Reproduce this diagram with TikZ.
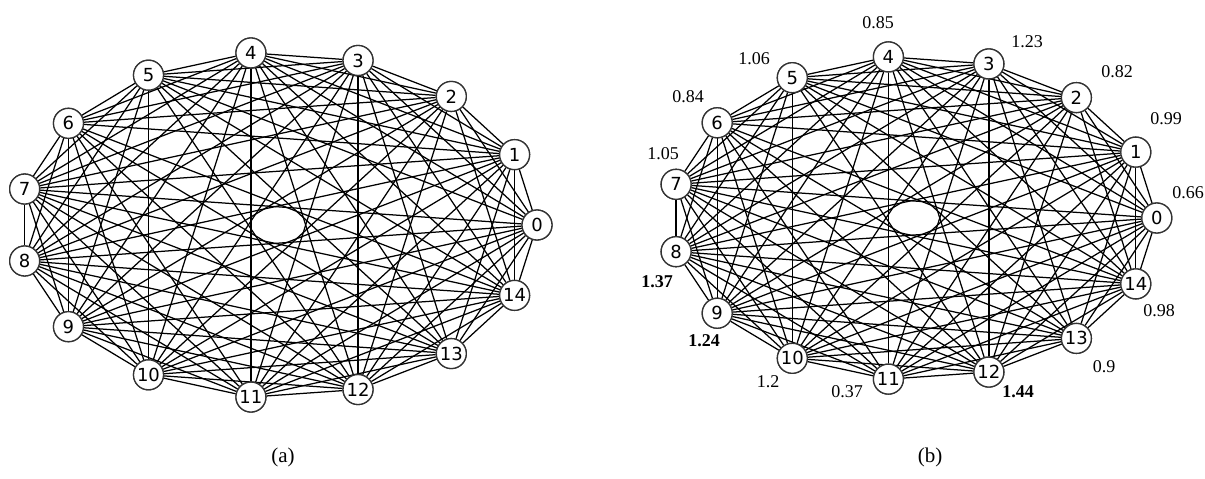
\documentclass[tikz,border=0pt]{standalone}
\usepackage{fontspec}
\setmainfont{Liberation Serif}
\newfontfamily\nodefont{DejaVu Sans}
\tikzset{
  vtx/.style={circle,draw=black!80,line width=1.3pt,fill=white,minimum size=30pt,inner sep=0pt,font=\nodefont\fontsize{18}{18}\selectfont},
  edgeline/.style={line width=1.25pt,black},
  wlab/.style={inner sep=0pt,font=\fontsize{18}{18}\selectfont},
  blab/.style={inner sep=0pt,font=\bfseries\fontsize{18}{18}\selectfont},
  caption/.style={inner sep=0pt,font=\fontsize{21}{21}\selectfont}
}
\begin{document}
\begin{tikzpicture}[x=1pt,y=-1pt]
\useasboundingbox (0,0) rectangle (1205,479);
% positions for graph (a) and (b)
\foreach \k in {0,...,14}{
  \coordinate (pa\k) at ({278+259*cos(24*\k)},{225-173*sin(24*\k)});
  \coordinate (pb\k) at ({913.8+243*cos(24*\k)},{218-162*sin(24*\k)});
}
% nodes
\foreach \k in {0,...,14}{
  \node[vtx] (a\k) at (pa\k) {\k};
  \node[vtx] (b\k) at (pb\k) {\k};
}
% edges (complete graph minus 0-6, 2-13, 5-11)
\foreach \i in {0,...,13}{
  \pgfmathtruncatemacro\s{\i+1}
  \foreach \j in {\s,...,14}{
    \pgfmathtruncatemacro\code{\i*100+\j}
    \ifnum\code=6 \else\ifnum\code=213 \else\ifnum\code=511 \else
      \draw[edgeline] (a\i) -- (a\j);
      \draw[edgeline] (b\i) -- (b\j);
    \fi\fi\fi
  }
}
% redraw nodes on top of the edges
\foreach \k in {0,...,14}{
  \node[vtx] (ta\k) at (pa\k) {\k};
  \node[vtx] (tb\k) at (pb\k) {\k};
}
% weights for graph (b)
\node[wlab] (w4) at (878,23) {0.85};
\node[wlab] (w5) at (754,59) {1.06};
\node[wlab] (w6) at (688,97) {0.84};
\node[wlab] (w7) at (663,154) {1.05};
\node[wlab] (w3) at (1027,42) {1.23};
\node[wlab] (w2) at (1117,72) {0.82};
\node[wlab] (w1) at (1166,119) {0.99};
\node[wlab] (w0) at (1188,193) {0.66};
\node[blab] (w8) at (657,282) {1.37};
\node[blab] (w9) at (704,341) {1.24};
\node[wlab] (w10) at (768,382) {1.2};
\node[wlab] (w11) at (847,392) {0.37};
\node[wlab] (w14) at (1159,311) {0.98};
\node[wlab] (w13) at (1104,367) {0.9};
\node[blab] (w12) at (1018,392) {1.44};
% captions
\node[caption] (capa) at (283,457) {(a)};
\node[caption] (capb) at (930,457) {(b)};
\end{tikzpicture}
\end{document}
